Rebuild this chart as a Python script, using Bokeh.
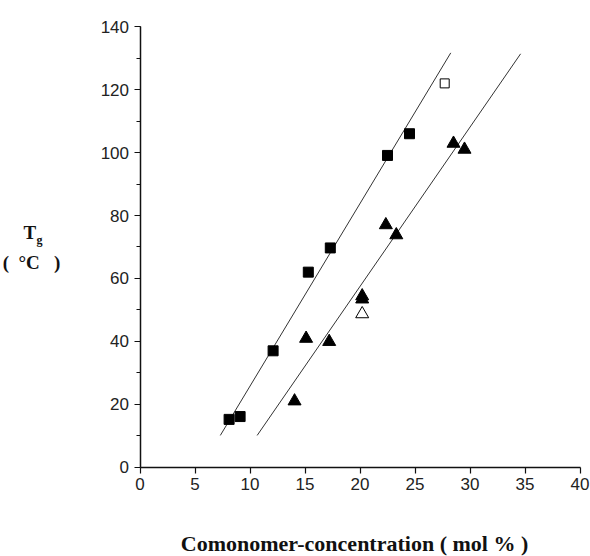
from bokeh.plotting import figure
from bokeh.models import Range1d, SingleIntervalTicker, LinearAxis
from bokeh.core.properties import value
from bokeh.embed import file_html
from bokeh.resources import INLINE

# --- data ---
sq_x = [8.1, 9.1, 12.1, 15.3, 17.3, 22.5, 24.5]
sq_y = [15.2, 16.1, 37.0, 62.0, 69.7, 99.1, 106.0]
open_sq_x = [27.7]
open_sq_y = [122.0]
tri_x = [14.05, 15.1, 17.2, 20.2, 20.2, 22.35, 23.3, 28.5, 29.5]
tri_y = [21.0, 40.9, 39.9, 54.4, 53.4, 77.0, 73.8, 102.9, 101.0]
open_tri_x = [20.2]
open_tri_y = [48.7]
fit1_x = [7.3, 28.25]
fit1_y = [10.1, 131.7]
fit2_x = [10.65, 34.6]
fit2_y = [10.1, 131.4]

x_ticks = [0, 5, 10, 15, 20, 25, 30, 35, 40]
y_ticks = [0, 20, 40, 60, 80, 100, 120, 140]
x_title = "Comonomer-concentration ( mol % )"
y_title_main = "T"
y_title_sub = "g"
y_title_unit = "(\u00a0 \u00b0C\u00a0\u00a0 )"

# frame covers the whole canvas; axes are pinned at x=0 / y=0
XS, X0 = 11.0, 139.5      # px per unit, px of x=0
YS, Y0 = 3.146, 466.7     # px per unit, px of y=0 (from top)
W, H = 590, 556

p = figure(width=W, height=H, output_backend="svg", toolbar_location=None,
           x_range=Range1d(-X0 / XS, (W - X0) / XS),
           y_range=Range1d((Y0 - H) / YS, Y0 / YS),
           x_axis_location=None, y_axis_location=None, min_border=0)
p.outline_line_color = None
p.xgrid.visible = False
p.ygrid.visible = False
p.background_fill_color = "white"
p.border_fill_color = "white"

xaxis = LinearAxis(fixed_location=0, bounds=(x_ticks[0], x_ticks[-1]),
                   ticker=SingleIntervalTicker(interval=5, num_minor_ticks=0))
yaxis = LinearAxis(fixed_location=0, bounds=(y_ticks[0], y_ticks[-1]),
                   ticker=SingleIntervalTicker(interval=20, num_minor_ticks=2))
for ax in (xaxis, yaxis):
    ax.axis_line_color = "#111111"
    ax.axis_line_width = 1.5
    ax.major_tick_line_color = "#111111"
    ax.major_tick_line_width = 1.2
    ax.minor_tick_line_color = "#111111"
    ax.major_tick_in = 0
    ax.minor_tick_in = 0
    ax.major_tick_out = 6
    ax.minor_tick_out = 4
    ax.major_label_text_font = "Liberation Sans"
    ax.major_label_text_font_size = "17px"
    ax.major_label_text_color = "#222222"
    ax.major_label_standoff = 5
p.add_layout(xaxis, "below")
p.add_layout(yaxis, "left")

# fit lines
p.line(fit1_x, fit1_y, line_color="#333333", line_width=1)
p.line(fit2_x, fit2_y, line_color="#333333", line_width=1)

# markers
p.scatter(sq_x, sq_y, marker="square", size=10, fill_color="black", line_color="black")
p.scatter(open_sq_x, open_sq_y, marker="square", size=9, fill_color="white",
          line_color="black", line_width=1)
p.scatter(tri_x, tri_y, marker="triangle", size=13, fill_color="black", line_color="black")
p.scatter(open_tri_x, open_tri_y, marker="triangle", size=13, fill_color="white",
          line_color="black", line_width=1)

# axis titles as text glyphs (pixel positions converted to data units)
def dx(px):
    return (px - X0) / XS

def dy(py):
    return (Y0 - py) / YS

serif = value("Liberation Serif")
p.text(x=[dx(23)], y=[dy(232)], text=[y_title_main], text_font=serif,
       text_font_style="bold", text_font_size="19px", text_align="left",
       text_baseline="alphabetic", text_color="#111111")
p.text(x=[dx(36)], y=[dy(239)], text=[y_title_sub], text_font=serif,
       text_font_style="bold", text_font_size="12px", text_align="left",
       text_baseline="alphabetic", text_color="#111111")
p.text(x=[dx(31)], y=[dy(262)], text=[y_title_unit], text_font=serif,
       text_font_style="bold", text_font_size="19px", text_align="center",
       text_baseline="alphabetic", text_color="#111111")
p.text(x=[dx(354)], y=[dy(543)], text=[x_title], text_font=serif,
       text_font_style="bold", text_font_size="22px", text_align="center",
       text_baseline="alphabetic", text_color="#111111")

open("out.html", "w").write(file_html(p, INLINE))
